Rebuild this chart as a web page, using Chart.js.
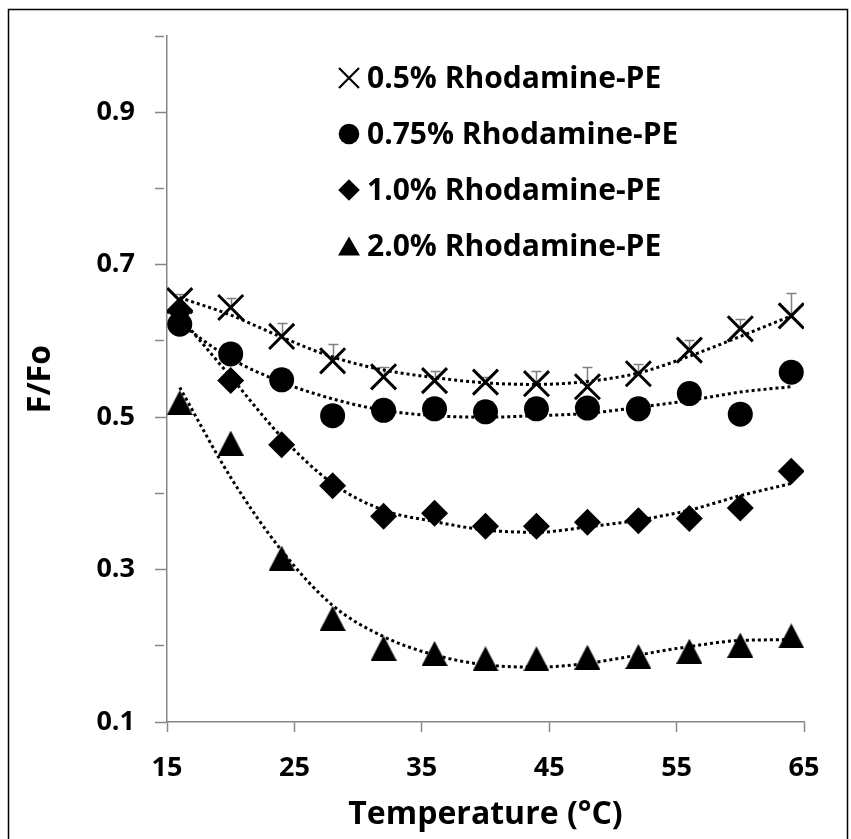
<!DOCTYPE html>
<html><head><meta charset="utf-8">
<script src="https://cdn.jsdelivr.net/npm/chart.js@4/dist/chart.umd.min.js"></script>
<style>html,body{margin:0;padding:0;background:#fff;} canvas{display:block;}</style>
</head><body>
<canvas id="c" width="851" height="839"></canvas>
<script>
// ---- data ----
const temperatures = [16, 20, 24, 28, 32, 36, 40, 44, 48, 52, 56, 60, 64];
const rhod05  = [0.653, 0.644, 0.606, 0.574, 0.553, 0.548, 0.546, 0.544, 0.540, 0.557, 0.588, 0.616, 0.633];
const rhod05Err = [0.009, 0.012, 0.018, 0.022, 0.013, 0.012, 0.007, 0.016, 0.026, 0.013, 0.013, 0.013, 0.030];
const rhod075 = [0.622, 0.583, 0.549, 0.502, 0.509, 0.511, 0.507, 0.511, 0.512, 0.511, 0.531, 0.504, 0.559];
const rhod10  = [0.640, 0.548, 0.464, 0.410, 0.370, 0.374, 0.357, 0.357, 0.362, 0.364, 0.367, 0.381, 0.429];
const rhod20  = [0.519, 0.466, 0.315, 0.236, 0.197, 0.190, 0.183, 0.183, 0.185, 0.186, 0.193, 0.201, 0.213];
// dotted trendlines
const trend05  = [0.657, 0.634, 0.605, 0.579, 0.562, 0.552, 0.545, 0.543, 0.547, 0.558, 0.580, 0.606, 0.633];
const trend075 = [0.623, 0.577, 0.546, 0.524, 0.509, 0.502, 0.500, 0.502, 0.505, 0.513, 0.522, 0.533, 0.540];
const trend10  = [0.632, 0.553, 0.474, 0.413, 0.378, 0.363, 0.352, 0.349, 0.356, 0.365, 0.378, 0.397, 0.413];
const trend20  = [0.539, 0.421, 0.325, 0.253, 0.212, 0.188, 0.175, 0.172, 0.177, 0.188, 0.199, 0.207, 0.208];
const seriesLabels = ['0.5% Rhodamine-PE', '0.75% Rhodamine-PE', '1.0% Rhodamine-PE', '2.0% Rhodamine-PE'];
const xTickValues = [15, 25, 35, 45, 55, 65];
const xTitle = 'Temperature (°C)';
const yTitle = 'F/Fo';

const FONT = "'Open Sans', 'DejaVu Sans', sans-serif";
const pts = (ys) => temperatures.map((t, i) => ({x: t, y: ys[i]}));

// Excel-style triangle marker (centered on its bounding box)
function triImg(w, h) {
  const c = document.createElement('canvas');
  c.width = w; c.height = h;
  const g = c.getContext('2d');
  g.fillStyle = '#000';
  g.beginPath(); g.moveTo(w / 2, 0); g.lineTo(w, h); g.lineTo(0, h); g.closePath(); g.fill();
  return c;
}
const triangle = triImg(26, 25);

const markerDS = (label, data, style, radius, order, kind) => ({
  label, data: pts(data), pointStyle: style, pointRadius: radius, pointHoverRadius: radius,
  backgroundColor: '#000', borderColor: '#000', borderWidth: kind === 'x' ? 3 : 0,
  showLine: false, order, markerKind: kind
});
const trendDS = (data) => ({
  label: '', data: pts(data), showLine: true, pointRadius: 0, pointHoverRadius: 0,
  borderColor: '#000', borderWidth: 3, borderDash: [3, 3], borderCapStyle: 'butt',
  cubicInterpolationMode: 'monotone', fill: false, order: 10, isTrend: true
});

const errorBars = {
  id: 'errorBars',
  beforeDatasetsDraw(chart) {
    const ctx = chart.ctx, xs = chart.scales.x, ys = chart.scales.y;
    ctx.save();
    ctx.strokeStyle = '#808080'; ctx.lineWidth = 1.5;
    temperatures.forEach((t, i) => {
      const px = Math.round(xs.getPixelForValue(t)) + 0.5;
      const y0 = ys.getPixelForValue(rhod05[i]);
      const y1 = Math.round(ys.getPixelForValue(rhod05[i] + rhod05Err[i])) + 0.5;
      ctx.beginPath();
      ctx.moveTo(px, y0); ctx.lineTo(px, y1);
      ctx.moveTo(px - 5, y1); ctx.lineTo(px + 5, y1);
      ctx.stroke();
    });
    ctx.restore();
  }
};

const customLegend = {
  id: 'customLegend',
  afterDraw(chart) {
    const ctx = chart.ctx;
    const items = chart.data.datasets.filter(d => !d.isTrend);
    const mx = 349, tx = 367, y0 = 78, dy = 56;
    ctx.save();
    ctx.font = "bold 30px " + FONT;
    ctx.textBaseline = 'middle'; ctx.textAlign = 'left';
    items.forEach((d, i) => {
      const y = y0 + i * dy;
      ctx.fillStyle = '#000'; ctx.strokeStyle = '#000';
      ctx.beginPath();
      if (d.markerKind === 'x') {
        ctx.lineWidth = 2.2;
        ctx.moveTo(mx - 10, y - 10); ctx.lineTo(mx + 10, y + 10);
        ctx.moveTo(mx + 10, y - 10); ctx.lineTo(mx - 10, y + 10);
        ctx.stroke();
      } else if (d.markerKind === 'o') {
        ctx.arc(mx, y, 10.3, 0, Math.PI * 2); ctx.fill();
      } else if (d.markerKind === 'd') {
        ctx.moveTo(mx, y - 10.8); ctx.lineTo(mx + 10.8, y); ctx.lineTo(mx, y + 10.8); ctx.lineTo(mx - 10.8, y);
        ctx.closePath(); ctx.fill();
      } else {
        ctx.moveTo(mx, y - 9.5); ctx.lineTo(mx + 11, y + 9.5); ctx.lineTo(mx - 11, y + 9.5);
        ctx.closePath(); ctx.fill();
      }
      ctx.fillText(d.label, tx, y + 1);
    });
    ctx.restore();
  }
};

const frame = {
  id: 'frame',
  afterDraw(chart) {
    const ctx = chart.ctx;
    ctx.save();
    ctx.strokeStyle = '#000'; ctx.lineWidth = 1.5;
    ctx.strokeRect(8.5, 9.5, 839, 850);
    ctx.restore();
  }
};

new Chart(document.getElementById('c'), {
  type: 'scatter',
  data: {
    datasets: [
      markerDS(seriesLabels[0], rhod05, 'crossRot', 17.7, 4, 'x'),
      markerDS(seriesLabels[1], rhod075, 'circle', 12.5, 3, 'o'),
      markerDS(seriesLabels[2], rhod10, 'rectRot', 13.5, 2, 'd'),
      markerDS(seriesLabels[3], rhod20, triangle, 13, 1, 't'),
      trendDS(trend05), trendDS(trend075), trendDS(trend10), trendDS(trend20)
    ]
  },
  options: {
    responsive: false,
    animation: false,
    devicePixelRatio: 1,
    layout: { padding: { left: 0, top: 35, right: 47, bottom: 0 } },
    plugins: { legend: { display: false }, tooltip: { enabled: false } },
    events: [],
    scales: {
      x: {
        type: 'linear', min: 15, max: 65,
        afterBuildTicks: (s) => { s.ticks = xTickValues.map(v => ({value: v})); },
        afterFit: (s) => { s.height = 117; },
        border: { display: true, color: '#868686', width: 1.5 },
        grid: { drawOnChartArea: false, drawTicks: true, tickLength: 10, tickColor: '#868686', tickWidth: 1.5 },
        ticks: { color: '#000', font: { family: FONT, size: 27, weight: 'bold' }, padding: 20, maxRotation: 0 },
        title: { display: true, text: xTitle, color: '#000', font: { family: FONT, size: 32, weight: 'bold' }, padding: { top: 0, bottom: 5 } }
      },
      y: {
        type: 'linear', min: 0.1, max: 1.0,
        afterBuildTicks: (s) => { const t = []; for (let k = 1; k <= 10; k++) t.push({value: k / 10}); s.ticks = t; },
        afterFit: (s) => { s.width = 167; },
        border: { display: true, color: '#868686', width: 1.5 },
        grid: {
          drawOnChartArea: false, drawTicks: true, tickLength: 12, tickColor: '#868686', tickWidth: 1.5,
          tickBorderDash: (ctx) => (ctx.tick && Math.round(ctx.tick.value * 10) % 2 === 0) ? [9, 100] : []
        },
        ticks: {
          color: '#000', font: { family: FONT, size: 27, weight: 'bold' }, padding: 20,
          callback: (v) => (Math.round(v * 10) % 2 === 1) ? v.toFixed(1) : ''
        },
        title: { display: true, text: yTitle, color: '#000', font: { family: FONT, size: 32, weight: 'bold' }, padding: { top: 22, bottom: 0 } }
      }
    }
  },
  plugins: [errorBars, customLegend, frame]
});
</script>
</body></html>
